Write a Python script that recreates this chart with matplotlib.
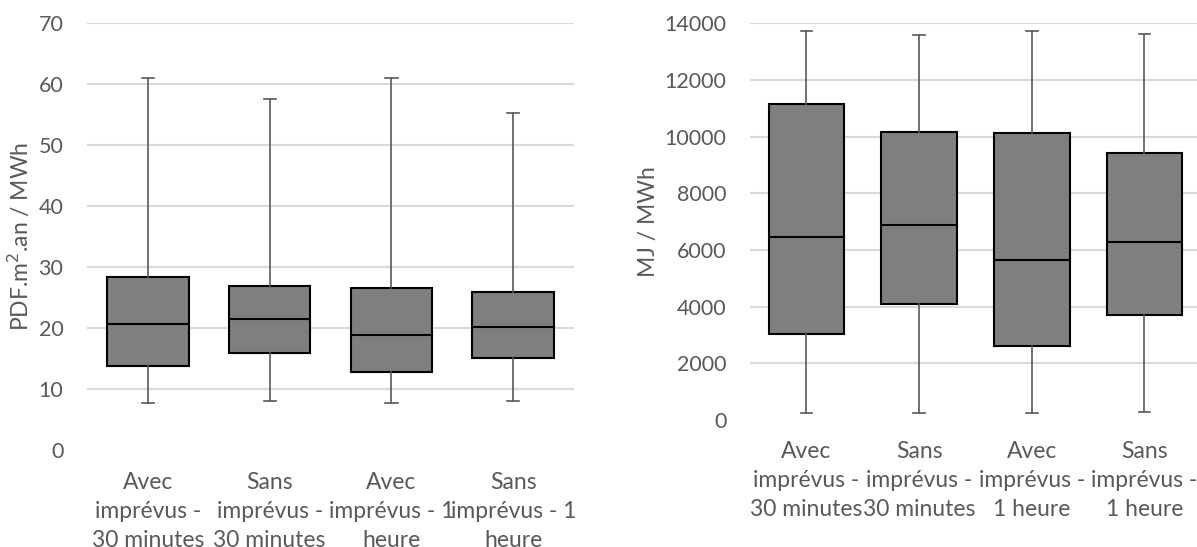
## box plots of the two impact indicators, with / without unforeseen events

import matplotlib.pyplot as plt

plt.rcParams['font.family'] = ['Lato', 'DejaVu Sans']

# categories (tick labels as wrapped in the original)
labels_left = ['Avec\nimprévus -\n30 minutes', 'Sans\nimprévus -\n30 minutes',
               'Avec\nimprévus - 1\nheure', 'Sans\nimprévus - 1\nheure']
labels_right = ['Avec\nimprévus -\n30 minutes', 'Sans\nimprévus -\n30 minutes',
                'Avec\nimprévus -\n1 heure', 'Sans\nimprévus -\n1 heure']

# left chart : PDF.m2.an / MWh
left_lo = [7.7, 8.0, 7.7, 8.0]
left_q1 = [13.7, 15.9, 12.7, 15.1]
left_med = [20.6, 21.5, 18.9, 20.2]
left_q3 = [28.3, 26.9, 26.6, 25.9]
left_hi = [61.0, 57.5, 61.0, 55.2]

# right chart : MJ / MWh
right_lo = [230, 260, 230, 270]
right_q1 = [3040, 4110, 2620, 3690]
right_med = [6470, 6890, 5650, 6270]
right_q3 = [11140, 10150, 10120, 9430]
right_hi = [13740, 13600, 13740, 13630]

TXT = '#595959'
FS_Y = 15.5
FS_X = 16.5


def make_stats(lo, q1, med, q3, hi):
    return [dict(whislo=a, q1=b, med=c, q3=d, whishi=e, fliers=[])
            for a, b, c, d, e in zip(lo, q1, med, q3, hi)]


def draw(ax, stats, labels, ymax, ystep, ylabel, capw, xpad):
    ax.bxp(stats, positions=range(len(stats)), widths=0.67, capwidths=capw,
           showfliers=False, patch_artist=True,
           boxprops=dict(facecolor='#7f7f7f', edgecolor='black', linewidth=1.5),
           medianprops=dict(color='black', linewidth=1.5),
           whiskerprops=dict(color='#595959', linewidth=1.2),
           capprops=dict(color='#595959', linewidth=1.2), zorder=3)
    ax.set_xlim(-0.5, len(stats) - 0.5)
    ax.set_ylim(0, ymax)
    ax.set_yticks(range(0, ymax + 1, ystep))
    ax.yaxis.grid(True, color='#d9d9d9', linewidth=1.5)
    ax.yaxis.get_gridlines()[0].set_visible(False)
    ax.set_axisbelow(True)
    for s in ax.spines.values():
        s.set_visible(False)
    ax.tick_params(axis='y', length=0, pad=17, labelsize=FS_Y, labelcolor=TXT)
    ax.tick_params(axis='x', length=0, pad=xpad, labelsize=FS_X, labelcolor=TXT)
    ax.set_xticks(range(len(stats)))
    ax.set_xticklabels(labels, linespacing=1.48)
    ax.set_ylabel(ylabel, fontsize=FS_X, color=TXT, labelpad=4)


fig = plt.figure(figsize=(11.97, 5.47), dpi=100)
fig.patch.set_facecolor('white')

ax1 = fig.add_axes([0.0727, 0.178, 0.4069, 0.7793])
draw(ax1, make_stats(left_lo, left_q1, left_med, left_q3, left_hi),
     labels_left, 70, 10, 'PDF.m$^2$.an / MWh', 0.1, 16)

ax2 = fig.add_axes([0.6266, 0.2322, 0.3766, 0.7252])
draw(ax2, make_stats(right_lo, right_q1, right_med, right_q3, right_hi),
     labels_right, 14000, 2000, 'MJ / MWh', 0.104, 15)

fig.savefig('out.png', dpi=100, facecolor='white')
